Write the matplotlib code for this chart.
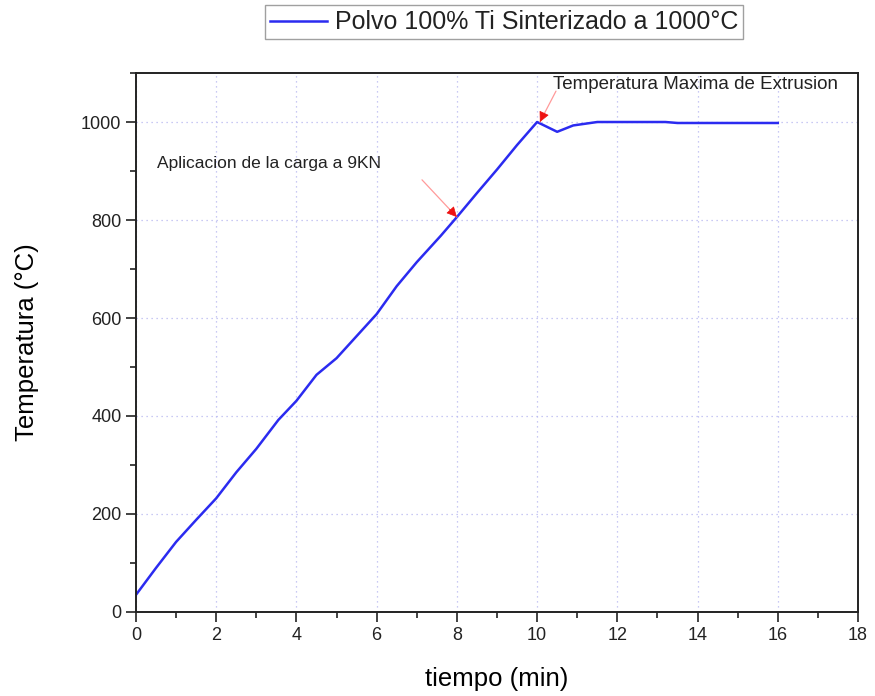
import matplotlib
matplotlib.use("Agg")
import matplotlib.pyplot as plt
from matplotlib.ticker import MultipleLocator

# ── data ──────────────────────────────────────────────────────────────────
tiempo = [0.0, 0.5, 1.0, 1.5, 2.0, 2.5, 3.0, 3.55, 4.0, 4.5, 5.0, 5.5, 6.0,
          6.5, 7.0, 7.6, 8.0, 8.5, 9.0, 9.5, 10.0, 10.5, 10.9, 11.5, 12.0,
          13.2, 13.5, 14.5, 15.5, 16.0]
temperatura = [35, 90, 143, 188, 232, 285, 333, 392, 431, 484, 518, 563, 608,
               665, 714, 768, 806, 855, 903, 953, 1000, 980, 993, 1000, 1000,
               1000, 998, 998, 998, 998]

LEGEND_LABEL = "Polvo 100% Ti Sinterizado a 1000°C"
ANN_CARGA = "Aplicacion de la carga a 9KN"
ANN_MAX = "Temperatura Maxima de Extrusion"

plt.rcParams["font.family"] = ["Liberation Sans", "DejaVu Sans"]

fig = plt.figure(figsize=(8.75, 6.96), dpi=100)
ax = fig.add_axes([0.1554, 0.1207, 0.8252, 0.7744])

line, = ax.plot(tiempo, temperatura, color="#2b2bf0", lw=1.8, label=LEGEND_LABEL)

ax.set_xlim(0, 18)
ax.set_ylim(0, 1100)
ax.xaxis.set_major_locator(MultipleLocator(2))
ax.xaxis.set_minor_locator(MultipleLocator(1))
ax.yaxis.set_major_locator(MultipleLocator(200))
ax.yaxis.set_minor_locator(MultipleLocator(100))
ax.tick_params(which="major", direction="out", length=7, width=1.2,
               labelsize=13, top=False, right=False, colors="#222222")
ax.tick_params(which="minor", direction="out", length=4, width=1.2,
               top=False, right=False, colors="#222222")
for s in ax.spines.values():
    s.set_linewidth(1.4)
    s.set_color("#222222")

ax.grid(True, which="major", color="#b8b8f0", ls=(0, (1, 3)), lw=0.9)

ax.set_xlabel("tiempo (min)", fontsize=18.5, labelpad=17)
ax.set_ylabel("Temperatura (°C)", fontsize=18.5, labelpad=30)

# pale shaft with a solid red head
shaft = dict(arrowstyle="-", color="#ff9a9a", lw=0.9, shrinkA=0, shrinkB=0)
head = dict(arrowstyle="-|>", color="#ee1111", lw=0.5, mutation_scale=16,
            shrinkA=0, shrinkB=0)

ax.annotate("", xy=(8.0, 806), xytext=(7.13, 882), arrowprops=shaft)
ax.annotate("", xy=(8.0, 806), xytext=(7.82, 822), arrowprops=head)
ax.text(0.52, 916, ANN_CARGA, fontsize=12.5, ha="left", va="center",
        color="#222222")

ax.annotate("", xy=(10.07, 1000), xytext=(10.47, 1063), arrowprops=shaft)
ax.annotate("", xy=(10.07, 1000), xytext=(10.15, 1014), arrowprops=head)
ax.text(10.4, 1077, ANN_MAX, fontsize=13.5, ha="left", va="center",
        color="#222222")

leg = fig.legend(handles=[line], loc="center", bbox_to_anchor=(0.576, 0.968),
                 fontsize=18, frameon=True, fancybox=False, handlelength=2.3,
                 borderpad=0.2, handletextpad=0.3)
leg.get_frame().set_edgecolor("#888888")
leg.get_frame().set_linewidth(1.0)
for t in leg.get_texts():
    t.set_color("#222222")

fig.savefig("out.png", dpi=100)
